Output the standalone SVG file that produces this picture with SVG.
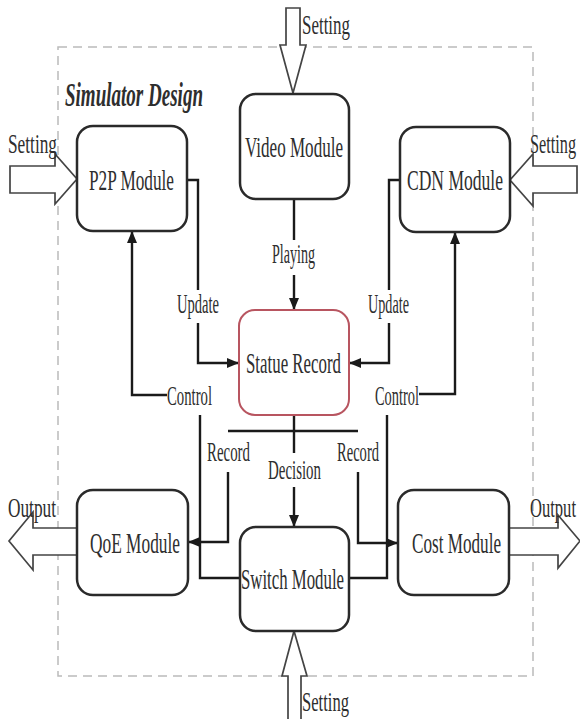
<svg xmlns="http://www.w3.org/2000/svg" width="580" height="719" viewBox="0 0 580 719">
<defs>
<marker id="ah" markerWidth="12" markerHeight="10" refX="11" refY="5" orient="auto" markerUnits="userSpaceOnUse">
<path d="M0,0 L12,5 L0,10 Z" fill="#1a1a1a"/>
</marker>
<style>
.box{fill:#fff;stroke:#2a2a2a;stroke-width:2.5}
.red{fill:#fff;stroke:#b85560;stroke-width:2}
.t{font-family:"Liberation Serif","Times New Roman",serif;font-size:30px;fill:#2e2e2e}
.s{font-family:"Liberation Serif","Times New Roman",serif;font-size:27px;fill:#2e2e2e}
.c{fill:none;stroke:#1a1a1a;stroke-width:2.4}
.ha{fill:#fff;stroke:#444;stroke-width:1.7}
</style>
</defs>
<rect x="58" y="47" width="475" height="629" fill="none" stroke="#bbb" stroke-width="1.5" stroke-dasharray="9 6"/>
<text x="65" y="106" font-family="Liberation Serif,serif" font-size="33" font-weight="bold" font-style="italic" fill="#2e2e2e" textLength="138" lengthAdjust="spacingAndGlyphs">Simulator Design</text>

<g id="connectors">
<path class="c" d="M294,199 V240"/>
<path class="c" d="M294,275 V309" marker-end="url(#ah)"/>
<path class="c" d="M187,180 H198 V290"/>
<path class="c" d="M198,323 V363 H238" marker-end="url(#ah)"/>
<path class="c" d="M400,180 H389 V290"/>
<path class="c" d="M389,323 V363 H350" marker-end="url(#ah)"/>
<path class="c" d="M167,395 H132 V232" marker-end="url(#ah)"/>
<path class="c" d="M200,415 V578 H240"/>
<path class="c" d="M419,394 H455 V233" marker-end="url(#ah)"/>
<path class="c" d="M387,415 V578 H349"/>
<path class="c" d="M228,431 H358"/>
<path class="c" d="M294,415 V453"/>
<path class="c" d="M294,487 V526" marker-end="url(#ah)"/>
<path class="c" d="M228,472 V542 H189" marker-end="url(#ah)"/>
<path class="c" d="M358,472 V543 H397" marker-end="url(#ah)"/>
</g>

<g id="setting-top">
<polygon class="ha" points="286,8 286,45 280,45 293,93 306,45 300,45 300,8"/>
<text class="s" x="302" y="34" textLength="48" lengthAdjust="spacingAndGlyphs">Setting</text>
</g>
<g id="setting-left">
<polygon class="ha" points="10,166 55,166 55,154 77,179 55,204 55,193 10,193"/>
<text class="s" x="8" y="153" textLength="49" lengthAdjust="spacingAndGlyphs">Setting</text>
</g>
<g id="setting-right">
<polygon class="ha" points="577,166 533,166 533,154 510,180 533,206 533,193 577,193"/>
<text class="s" x="530" y="153" textLength="46" lengthAdjust="spacingAndGlyphs">Setting</text>
</g>
<g id="setting-bottom">
<polygon class="ha" points="288,721 288,676 282,676 294,631 307,676 301,676 301,721"/>
<text class="s" x="302" y="711" textLength="47" lengthAdjust="spacingAndGlyphs">Setting</text>
</g>
<g id="output-left">
<polyline class="ha" points="77,528 33,528 33,512 9,541 33,570 33,555 77,555"/>
<text class="s" x="8" y="517" textLength="48" lengthAdjust="spacingAndGlyphs">Output</text>
</g>
<g id="output-right">
<polyline class="ha" points="509,528 558,528 558,515 580,541 558,568 558,555 509,555"/>
<text class="s" x="530" y="517" textLength="46" lengthAdjust="spacingAndGlyphs">Output</text>
</g>

<g id="p2p"><rect class="box" x="77" y="126" width="110" height="105" rx="16"/>
<text class="t" x="89" y="190" textLength="85" lengthAdjust="spacingAndGlyphs">P2P Module</text></g>
<g id="video"><rect class="box" x="240" y="94" width="109" height="105" rx="16"/>
<text class="t" x="245" y="157" textLength="98" lengthAdjust="spacingAndGlyphs">Video Module</text></g>
<g id="cdn"><rect class="box" x="400" y="127" width="110" height="105" rx="16"/>
<text class="t" x="407" y="190" textLength="96" lengthAdjust="spacingAndGlyphs">CDN  Module</text></g>
<g id="statue"><rect class="red" x="239" y="310" width="110" height="105" rx="16"/>
<text class="t" x="246" y="373" textLength="95" lengthAdjust="spacingAndGlyphs">Statue Record</text></g>
<g id="qoe"><rect class="box" x="77" y="490" width="111" height="105" rx="16"/>
<text class="t" x="90" y="553" textLength="90" lengthAdjust="spacingAndGlyphs">QoE Module</text></g>
<g id="switch"><rect class="box" x="240" y="527" width="109" height="104" rx="16"/>
<text class="t" x="241" y="589" textLength="103" lengthAdjust="spacingAndGlyphs">Switch Module</text></g>
<g id="cost"><rect class="box" x="398" y="490" width="111" height="105" rx="16"/>
<text class="t" x="412" y="553" textLength="89" lengthAdjust="spacingAndGlyphs">Cost Module</text></g>

<g id="labels">
<text class="s" x="272" y="263" textLength="43" lengthAdjust="spacingAndGlyphs">Playing</text>
<text class="s" x="177" y="313" textLength="42" lengthAdjust="spacingAndGlyphs">Update</text>
<text class="s" x="368" y="313" textLength="41" lengthAdjust="spacingAndGlyphs">Update</text>
<text class="s" x="167" y="405" textLength="45" lengthAdjust="spacingAndGlyphs">Control</text>
<text class="s" x="375" y="405" textLength="44" lengthAdjust="spacingAndGlyphs">Control</text>
<text class="s" x="207" y="461" textLength="43" lengthAdjust="spacingAndGlyphs">Record</text>
<text class="s" x="337" y="461" textLength="42" lengthAdjust="spacingAndGlyphs">Record</text>
<text class="s" x="268" y="479" textLength="53" lengthAdjust="spacingAndGlyphs">Decision</text>
</g>
</svg>
